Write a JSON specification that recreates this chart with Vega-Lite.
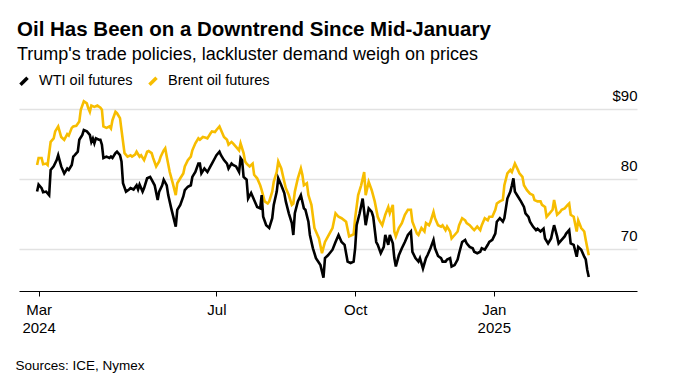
{
  "$schema": "https://vega.github.io/schema/vega-lite/v6.json",
  "autosize": {"type": "none"},
  "padding": {"left": 19, "top": 95, "right": 44, "bottom": 91},
  "width": 618,
  "height": 196,
  "background": "white",
  "title": {
    "text": "Oil Has Been on a Downtrend Since Mid-January",
    "subtitle": "Trump's trade policies, lackluster demand weigh on prices",
    "anchor": "start",
    "frame": "group",
    "font": "Liberation Sans",
    "fontSize": 20.5,
    "fontWeight": "bold",
    "color": "#000000",
    "subtitleFont": "Liberation Sans",
    "subtitleFontSize": 18,
    "subtitleColor": "#000000",
    "subtitlePadding": 6,
    "offset": 8,
    "dx": -2
  },
  "datasets": {
    "brent": [
      {"d": "2024-03-04", "v": 82.0}, {"d": "2024-03-05", "v": 83.0}, {"d": "2024-03-07", "v": 83.0}, {"d": "2024-03-08", "v": 82.1},
      {"d": "2024-03-10", "v": 82.2}, {"d": "2024-03-11", "v": 82.0}, {"d": "2024-03-13", "v": 85.3}, {"d": "2024-03-15", "v": 85.8},
      {"d": "2024-03-16", "v": 86.8}, {"d": "2024-03-18", "v": 87.5}, {"d": "2024-03-20", "v": 86.0}, {"d": "2024-03-22", "v": 85.6},
      {"d": "2024-03-24", "v": 86.4}, {"d": "2024-03-25", "v": 86.2}, {"d": "2024-03-27", "v": 87.3}, {"d": "2024-03-28", "v": 87.5},
      {"d": "2024-03-30", "v": 87.6}, {"d": "2024-04-01", "v": 88.2}, {"d": "2024-04-02", "v": 89.9}, {"d": "2024-04-04", "v": 91.1},
      {"d": "2024-04-06", "v": 90.8}, {"d": "2024-04-07", "v": 90.1}, {"d": "2024-04-08", "v": 89.6}, {"d": "2024-04-09", "v": 90.5},
      {"d": "2024-04-11", "v": 90.3}, {"d": "2024-04-13", "v": 90.5}, {"d": "2024-04-15", "v": 90.2}, {"d": "2024-04-16", "v": 89.9},
      {"d": "2024-04-17", "v": 87.5}, {"d": "2024-04-19", "v": 87.3}, {"d": "2024-04-21", "v": 87.5}, {"d": "2024-04-22", "v": 87.2},
      {"d": "2024-04-23", "v": 88.4}, {"d": "2024-04-25", "v": 89.6}, {"d": "2024-04-26", "v": 89.4}, {"d": "2024-04-28", "v": 88.7},
      {"d": "2024-04-29", "v": 87.0}, {"d": "2024-05-01", "v": 83.7}, {"d": "2024-05-03", "v": 83.2}, {"d": "2024-05-05", "v": 83.4},
      {"d": "2024-05-06", "v": 83.2}, {"d": "2024-05-08", "v": 83.5}, {"d": "2024-05-09", "v": 83.9}, {"d": "2024-05-11", "v": 83.2},
      {"d": "2024-05-12", "v": 83.4}, {"d": "2024-05-14", "v": 82.7}, {"d": "2024-05-16", "v": 83.9}, {"d": "2024-05-17", "v": 84.0},
      {"d": "2024-05-19", "v": 83.7}, {"d": "2024-05-20", "v": 83.0}, {"d": "2024-05-22", "v": 81.8}, {"d": "2024-05-24", "v": 82.5},
      {"d": "2024-05-25", "v": 83.2}, {"d": "2024-05-27", "v": 84.1}, {"d": "2024-05-28", "v": 84.4}, {"d": "2024-05-29", "v": 83.2},
      {"d": "2024-05-31", "v": 81.0}, {"d": "2024-06-02", "v": 79.4}, {"d": "2024-06-04", "v": 77.7}, {"d": "2024-06-05", "v": 79.4},
      {"d": "2024-06-07", "v": 80.1}, {"d": "2024-06-09", "v": 80.8}, {"d": "2024-06-10", "v": 81.8}, {"d": "2024-06-12", "v": 82.7},
      {"d": "2024-06-14", "v": 83.2}, {"d": "2024-06-15", "v": 84.1}, {"d": "2024-06-17", "v": 85.1}, {"d": "2024-06-19", "v": 85.8},
      {"d": "2024-06-20", "v": 85.6}, {"d": "2024-06-22", "v": 86.0}, {"d": "2024-06-24", "v": 85.9}, {"d": "2024-06-25", "v": 85.8},
      {"d": "2024-06-27", "v": 86.5}, {"d": "2024-06-28", "v": 86.8}, {"d": "2024-06-30", "v": 86.7}, {"d": "2024-07-01", "v": 87.0},
      {"d": "2024-07-03", "v": 87.5}, {"d": "2024-07-05", "v": 86.5}, {"d": "2024-07-06", "v": 86.0}, {"d": "2024-07-08", "v": 85.6},
      {"d": "2024-07-09", "v": 84.9}, {"d": "2024-07-11", "v": 85.3}, {"d": "2024-07-12", "v": 85.1}, {"d": "2024-07-14", "v": 84.6},
      {"d": "2024-07-16", "v": 84.1}, {"d": "2024-07-17", "v": 85.1}, {"d": "2024-07-19", "v": 83.7}, {"d": "2024-07-20", "v": 82.5},
      {"d": "2024-07-21", "v": 82.2}, {"d": "2024-07-23", "v": 81.8}, {"d": "2024-07-25", "v": 82.2}, {"d": "2024-07-26", "v": 80.6},
      {"d": "2024-07-28", "v": 80.1}, {"d": "2024-07-30", "v": 79.1}, {"d": "2024-07-31", "v": 78.4}, {"d": "2024-08-02", "v": 76.8},
      {"d": "2024-08-04", "v": 76.5}, {"d": "2024-08-05", "v": 76.8}, {"d": "2024-08-07", "v": 78.2}, {"d": "2024-08-08", "v": 79.6},
      {"d": "2024-08-10", "v": 81.0}, {"d": "2024-08-11", "v": 82.5}, {"d": "2024-08-13", "v": 81.5}, {"d": "2024-08-15", "v": 79.6},
      {"d": "2024-08-16", "v": 78.7}, {"d": "2024-08-18", "v": 77.7}, {"d": "2024-08-20", "v": 76.3}, {"d": "2024-08-21", "v": 76.5},
      {"d": "2024-08-22", "v": 78.2}, {"d": "2024-08-24", "v": 80.1}, {"d": "2024-08-26", "v": 81.5}, {"d": "2024-08-27", "v": 80.6},
      {"d": "2024-08-28", "v": 79.1}, {"d": "2024-08-30", "v": 79.4}, {"d": "2024-08-31", "v": 77.7}, {"d": "2024-09-02", "v": 76.3},
      {"d": "2024-09-04", "v": 73.0}, {"d": "2024-09-05", "v": 72.5}, {"d": "2024-09-07", "v": 71.5}, {"d": "2024-09-09", "v": 69.4},
      {"d": "2024-09-11", "v": 71.0}, {"d": "2024-09-13", "v": 71.8}, {"d": "2024-09-16", "v": 73.0}, {"d": "2024-09-18", "v": 75.1},
      {"d": "2024-09-20", "v": 74.6}, {"d": "2024-09-22", "v": 74.4}, {"d": "2024-09-25", "v": 73.9}, {"d": "2024-09-27", "v": 71.8},
      {"d": "2024-09-30", "v": 72.1}, {"d": "2024-10-01", "v": 74.4}, {"d": "2024-10-03", "v": 77.7}, {"d": "2024-10-05", "v": 79.1},
      {"d": "2024-10-07", "v": 81.0}, {"d": "2024-10-08", "v": 77.7}, {"d": "2024-10-10", "v": 79.6}, {"d": "2024-10-12", "v": 78.4},
      {"d": "2024-10-14", "v": 76.8}, {"d": "2024-10-16", "v": 74.6}, {"d": "2024-10-17", "v": 74.1}, {"d": "2024-10-19", "v": 73.4},
      {"d": "2024-10-21", "v": 74.9}, {"d": "2024-10-23", "v": 76.0}, {"d": "2024-10-24", "v": 75.1}, {"d": "2024-10-26", "v": 76.3},
      {"d": "2024-10-27", "v": 72.5}, {"d": "2024-10-28", "v": 71.8}, {"d": "2024-10-30", "v": 73.0}, {"d": "2024-11-01", "v": 73.7},
      {"d": "2024-11-03", "v": 74.9}, {"d": "2024-11-05", "v": 75.6}, {"d": "2024-11-07", "v": 75.6}, {"d": "2024-11-08", "v": 73.9},
      {"d": "2024-11-11", "v": 72.2}, {"d": "2024-11-12", "v": 72.0}, {"d": "2024-11-14", "v": 73.0}, {"d": "2024-11-16", "v": 72.5},
      {"d": "2024-11-17", "v": 73.7}, {"d": "2024-11-19", "v": 73.4}, {"d": "2024-11-20", "v": 73.9}, {"d": "2024-11-22", "v": 75.3},
      {"d": "2024-11-23", "v": 74.4}, {"d": "2024-11-25", "v": 73.4}, {"d": "2024-11-27", "v": 73.2}, {"d": "2024-11-28", "v": 73.4},
      {"d": "2024-11-30", "v": 72.7}, {"d": "2024-12-01", "v": 73.2}, {"d": "2024-12-03", "v": 72.5}, {"d": "2024-12-04", "v": 71.5},
      {"d": "2024-12-06", "v": 72.0}, {"d": "2024-12-08", "v": 72.5}, {"d": "2024-12-09", "v": 73.4}, {"d": "2024-12-11", "v": 74.4},
      {"d": "2024-12-13", "v": 74.1}, {"d": "2024-12-14", "v": 73.7}, {"d": "2024-12-16", "v": 73.4}, {"d": "2024-12-18", "v": 72.9},
      {"d": "2024-12-19", "v": 72.7}, {"d": "2024-12-21", "v": 73.2}, {"d": "2024-12-23", "v": 72.7}, {"d": "2024-12-24", "v": 73.4},
      {"d": "2024-12-26", "v": 74.4}, {"d": "2024-12-28", "v": 74.1}, {"d": "2024-12-29", "v": 74.6}, {"d": "2024-12-31", "v": 74.6},
      {"d": "2025-01-02", "v": 75.6}, {"d": "2025-01-03", "v": 76.5}, {"d": "2025-01-05", "v": 76.8}, {"d": "2025-01-07", "v": 77.0},
      {"d": "2025-01-08", "v": 79.1}, {"d": "2025-01-10", "v": 80.8}, {"d": "2025-01-12", "v": 81.3}, {"d": "2025-01-13", "v": 81.0},
      {"d": "2025-01-15", "v": 82.2}, {"d": "2025-01-17", "v": 81.3}, {"d": "2025-01-18", "v": 80.8}, {"d": "2025-01-20", "v": 80.3},
      {"d": "2025-01-21", "v": 79.1}, {"d": "2025-01-23", "v": 78.4}, {"d": "2025-01-25", "v": 77.9}, {"d": "2025-01-27", "v": 77.7},
      {"d": "2025-01-28", "v": 77.0}, {"d": "2025-01-30", "v": 76.8}, {"d": "2025-02-01", "v": 76.8}, {"d": "2025-02-02", "v": 76.3},
      {"d": "2025-02-04", "v": 76.0}, {"d": "2025-02-05", "v": 74.6}, {"d": "2025-02-07", "v": 75.1}, {"d": "2025-02-09", "v": 75.6},
      {"d": "2025-02-10", "v": 77.0}, {"d": "2025-02-12", "v": 74.9}, {"d": "2025-02-14", "v": 75.3}, {"d": "2025-02-15", "v": 75.6},
      {"d": "2025-02-17", "v": 75.8}, {"d": "2025-02-19", "v": 76.3}, {"d": "2025-02-20", "v": 76.5}, {"d": "2025-02-21", "v": 74.9},
      {"d": "2025-02-23", "v": 74.6}, {"d": "2025-02-25", "v": 72.5}, {"d": "2025-02-26", "v": 74.1}, {"d": "2025-02-28", "v": 73.0},
      {"d": "2025-03-02", "v": 72.5}, {"d": "2025-03-03", "v": 71.3}, {"d": "2025-03-05", "v": 69.1}
    ],
    "wti": [
      {"d": "2024-03-04", "v": 78.2}, {"d": "2024-03-05", "v": 79.2}, {"d": "2024-03-07", "v": 78.7}, {"d": "2024-03-08", "v": 78.1},
      {"d": "2024-03-10", "v": 78.2}, {"d": "2024-03-12", "v": 77.7}, {"d": "2024-03-13", "v": 81.3}, {"d": "2024-03-15", "v": 81.8},
      {"d": "2024-03-17", "v": 82.7}, {"d": "2024-03-18", "v": 83.4}, {"d": "2024-03-20", "v": 81.8}, {"d": "2024-03-22", "v": 80.8},
      {"d": "2024-03-24", "v": 81.5}, {"d": "2024-03-25", "v": 81.3}, {"d": "2024-03-27", "v": 82.0}, {"d": "2024-03-28", "v": 83.2},
      {"d": "2024-03-29", "v": 83.4}, {"d": "2024-03-31", "v": 83.9}, {"d": "2024-04-01", "v": 85.6}, {"d": "2024-04-03", "v": 86.3},
      {"d": "2024-04-04", "v": 87.0}, {"d": "2024-04-06", "v": 86.8}, {"d": "2024-04-08", "v": 86.3}, {"d": "2024-04-09", "v": 85.3},
      {"d": "2024-04-10", "v": 85.8}, {"d": "2024-04-11", "v": 85.1}, {"d": "2024-04-12", "v": 85.8}, {"d": "2024-04-14", "v": 85.6},
      {"d": "2024-04-15", "v": 85.6}, {"d": "2024-04-16", "v": 84.9}, {"d": "2024-04-17", "v": 83.0}, {"d": "2024-04-19", "v": 83.2},
      {"d": "2024-04-21", "v": 83.0}, {"d": "2024-04-22", "v": 83.2}, {"d": "2024-04-23", "v": 83.0}, {"d": "2024-04-25", "v": 83.7},
      {"d": "2024-04-26", "v": 83.9}, {"d": "2024-04-28", "v": 83.4}, {"d": "2024-04-29", "v": 82.5}, {"d": "2024-04-30", "v": 79.4},
      {"d": "2024-05-02", "v": 78.2}, {"d": "2024-05-04", "v": 78.5}, {"d": "2024-05-05", "v": 78.7}, {"d": "2024-05-07", "v": 78.5},
      {"d": "2024-05-09", "v": 79.1}, {"d": "2024-05-10", "v": 78.5}, {"d": "2024-05-11", "v": 79.2}, {"d": "2024-05-13", "v": 78.2},
      {"d": "2024-05-14", "v": 78.7}, {"d": "2024-05-16", "v": 80.1}, {"d": "2024-05-18", "v": 80.3}, {"d": "2024-05-19", "v": 79.9},
      {"d": "2024-05-21", "v": 79.1}, {"d": "2024-05-23", "v": 77.0}, {"d": "2024-05-24", "v": 78.2}, {"d": "2024-05-26", "v": 79.1},
      {"d": "2024-05-27", "v": 79.9}, {"d": "2024-05-29", "v": 79.1}, {"d": "2024-05-30", "v": 77.7}, {"d": "2024-06-01", "v": 75.8},
      {"d": "2024-06-04", "v": 73.2}, {"d": "2024-06-05", "v": 75.6}, {"d": "2024-06-07", "v": 76.3}, {"d": "2024-06-09", "v": 77.5},
      {"d": "2024-06-10", "v": 78.4}, {"d": "2024-06-12", "v": 78.9}, {"d": "2024-06-14", "v": 79.1}, {"d": "2024-06-15", "v": 80.3},
      {"d": "2024-06-17", "v": 81.0}, {"d": "2024-06-19", "v": 82.2}, {"d": "2024-06-20", "v": 82.2}, {"d": "2024-06-21", "v": 80.8},
      {"d": "2024-06-23", "v": 81.5}, {"d": "2024-06-25", "v": 81.0}, {"d": "2024-06-27", "v": 81.8}, {"d": "2024-06-28", "v": 82.2},
      {"d": "2024-06-30", "v": 83.0}, {"d": "2024-07-01", "v": 83.4}, {"d": "2024-07-03", "v": 83.9}, {"d": "2024-07-04", "v": 83.4},
      {"d": "2024-07-06", "v": 82.7}, {"d": "2024-07-08", "v": 82.2}, {"d": "2024-07-09", "v": 81.5}, {"d": "2024-07-11", "v": 82.2},
      {"d": "2024-07-12", "v": 82.0}, {"d": "2024-07-14", "v": 81.8}, {"d": "2024-07-16", "v": 81.0}, {"d": "2024-07-17", "v": 83.0},
      {"d": "2024-07-18", "v": 82.7}, {"d": "2024-07-19", "v": 80.3}, {"d": "2024-07-21", "v": 79.9}, {"d": "2024-07-22", "v": 77.2},
      {"d": "2024-07-24", "v": 78.0}, {"d": "2024-07-25", "v": 77.5}, {"d": "2024-07-27", "v": 76.5}, {"d": "2024-07-28", "v": 76.0},
      {"d": "2024-07-30", "v": 75.8}, {"d": "2024-07-31", "v": 77.7}, {"d": "2024-08-01", "v": 74.6}, {"d": "2024-08-03", "v": 73.4},
      {"d": "2024-08-04", "v": 73.2}, {"d": "2024-08-05", "v": 73.0}, {"d": "2024-08-07", "v": 74.4}, {"d": "2024-08-08", "v": 76.3},
      {"d": "2024-08-10", "v": 78.2}, {"d": "2024-08-11", "v": 80.1}, {"d": "2024-08-13", "v": 79.1}, {"d": "2024-08-15", "v": 78.0},
      {"d": "2024-08-16", "v": 76.8}, {"d": "2024-08-18", "v": 75.1}, {"d": "2024-08-20", "v": 73.7}, {"d": "2024-08-21", "v": 72.0},
      {"d": "2024-08-22", "v": 75.1}, {"d": "2024-08-24", "v": 76.8}, {"d": "2024-08-26", "v": 77.7}, {"d": "2024-08-28", "v": 75.8},
      {"d": "2024-08-29", "v": 75.6}, {"d": "2024-08-31", "v": 73.9}, {"d": "2024-09-01", "v": 72.0}, {"d": "2024-09-03", "v": 70.1},
      {"d": "2024-09-05", "v": 68.7}, {"d": "2024-09-08", "v": 67.7}, {"d": "2024-09-10", "v": 65.9}, {"d": "2024-09-11", "v": 68.7},
      {"d": "2024-09-13", "v": 69.1}, {"d": "2024-09-16", "v": 69.9}, {"d": "2024-09-18", "v": 71.0}, {"d": "2024-09-20", "v": 72.0},
      {"d": "2024-09-22", "v": 71.0}, {"d": "2024-09-24", "v": 70.6}, {"d": "2024-09-26", "v": 68.2}, {"d": "2024-09-28", "v": 68.0},
      {"d": "2024-09-30", "v": 68.2}, {"d": "2024-10-01", "v": 70.1}, {"d": "2024-10-02", "v": 73.4}, {"d": "2024-10-04", "v": 75.1},
      {"d": "2024-10-06", "v": 77.2}, {"d": "2024-10-08", "v": 73.4}, {"d": "2024-10-09", "v": 74.6}, {"d": "2024-10-10", "v": 75.8},
      {"d": "2024-10-12", "v": 75.3}, {"d": "2024-10-13", "v": 74.6}, {"d": "2024-10-15", "v": 71.0}, {"d": "2024-10-16", "v": 70.6},
      {"d": "2024-10-18", "v": 69.4}, {"d": "2024-10-20", "v": 70.3}, {"d": "2024-10-21", "v": 72.0}, {"d": "2024-10-23", "v": 70.6},
      {"d": "2024-10-24", "v": 72.0}, {"d": "2024-10-26", "v": 70.8}, {"d": "2024-10-27", "v": 68.7}, {"d": "2024-10-28", "v": 67.5},
      {"d": "2024-10-30", "v": 69.1}, {"d": "2024-11-01", "v": 70.1}, {"d": "2024-11-03", "v": 71.0}, {"d": "2024-11-05", "v": 72.0},
      {"d": "2024-11-07", "v": 72.5}, {"d": "2024-11-08", "v": 69.6}, {"d": "2024-11-10", "v": 68.7}, {"d": "2024-11-12", "v": 68.2},
      {"d": "2024-11-13", "v": 68.7}, {"d": "2024-11-15", "v": 67.2}, {"d": "2024-11-17", "v": 68.7}, {"d": "2024-11-18", "v": 69.1},
      {"d": "2024-11-20", "v": 70.1}, {"d": "2024-11-22", "v": 71.3}, {"d": "2024-11-23", "v": 70.1}, {"d": "2024-11-25", "v": 69.0},
      {"d": "2024-11-27", "v": 68.7}, {"d": "2024-11-28", "v": 68.2}, {"d": "2024-11-30", "v": 68.2}, {"d": "2024-12-01", "v": 68.5},
      {"d": "2024-12-03", "v": 68.7}, {"d": "2024-12-04", "v": 67.5}, {"d": "2024-12-06", "v": 67.7}, {"d": "2024-12-08", "v": 68.5},
      {"d": "2024-12-09", "v": 69.4}, {"d": "2024-12-11", "v": 71.0}, {"d": "2024-12-13", "v": 71.3}, {"d": "2024-12-14", "v": 70.8},
      {"d": "2024-12-16", "v": 70.3}, {"d": "2024-12-18", "v": 70.1}, {"d": "2024-12-19", "v": 69.6}, {"d": "2024-12-21", "v": 69.4},
      {"d": "2024-12-23", "v": 69.6}, {"d": "2024-12-24", "v": 70.1}, {"d": "2024-12-26", "v": 69.9}, {"d": "2024-12-28", "v": 70.6},
      {"d": "2024-12-29", "v": 71.0}, {"d": "2024-12-31", "v": 71.3}, {"d": "2025-01-02", "v": 72.2}, {"d": "2025-01-03", "v": 73.9},
      {"d": "2025-01-05", "v": 74.4}, {"d": "2025-01-07", "v": 73.9}, {"d": "2025-01-08", "v": 74.4}, {"d": "2025-01-10", "v": 77.2},
      {"d": "2025-01-12", "v": 78.2}, {"d": "2025-01-13", "v": 79.1}, {"d": "2025-01-14", "v": 80.1}, {"d": "2025-01-15", "v": 78.2},
      {"d": "2025-01-17", "v": 77.5}, {"d": "2025-01-19", "v": 76.8}, {"d": "2025-01-21", "v": 76.0}, {"d": "2025-01-22", "v": 75.1},
      {"d": "2025-01-24", "v": 74.6}, {"d": "2025-01-25", "v": 73.9}, {"d": "2025-01-27", "v": 73.2}, {"d": "2025-01-29", "v": 72.7},
      {"d": "2025-01-30", "v": 72.9}, {"d": "2025-02-01", "v": 72.5}, {"d": "2025-02-03", "v": 72.9}, {"d": "2025-02-04", "v": 71.5},
      {"d": "2025-02-06", "v": 70.8}, {"d": "2025-02-08", "v": 71.5}, {"d": "2025-02-09", "v": 72.5}, {"d": "2025-02-10", "v": 73.4},
      {"d": "2025-02-12", "v": 71.8}, {"d": "2025-02-13", "v": 70.8}, {"d": "2025-02-15", "v": 71.3}, {"d": "2025-02-17", "v": 71.8},
      {"d": "2025-02-18", "v": 72.2}, {"d": "2025-02-20", "v": 72.7}, {"d": "2025-02-21", "v": 70.8}, {"d": "2025-02-23", "v": 70.6},
      {"d": "2025-02-25", "v": 68.9}, {"d": "2025-02-26", "v": 70.3}, {"d": "2025-02-28", "v": 69.9}, {"d": "2025-03-02", "v": 68.9},
      {"d": "2025-03-03", "v": 68.5}, {"d": "2025-03-04", "v": 67.0}, {"d": "2025-03-05", "v": 66.0}
    ]
  },
  "encoding": {
    "x": {
      "field": "d",
      "type": "temporal",
      "scale": {
        "type": "utc",
        "domain": [
          {"year": 2024, "month": 2, "date": 21, "utc": true},
          {"year": 2025, "month": 4, "date": 6, "utc": true}
        ]
      },
      "axis": {
        "values": [
          {"year": 2024, "month": 3, "date": 5, "utc": true},
          {"year": 2024, "month": 7, "date": 1, "utc": true},
          {"year": 2024, "month": 10, "date": 1, "utc": true},
          {"year": 2025, "month": 1, "date": 1, "utc": true}
        ],
        "labelExpr": "utcmonth(datum.value) == 2 ? ['Mar', '2024'] : utcmonth(datum.value) == 0 ? ['Jan', '2025'] : utcFormat(datum.value, '%b')",
        "grid": false,
        "domainColor": "#000000",
        "domainWidth": 1,
        "tickColor": "#000000",
        "tickSize": 5,
        "tickWidth": 1,
        "labelFont": "Liberation Sans",
        "labelFontSize": 15,
        "labelColor": "#000000",
        "labelBaseline": "top",
        "labelPadding": 6,
        "labelLineHeight": 18,
        "labelFlush": false,
        "labelOverlap": false,
        "labelBound": false,
        "title": "Sources: ICE, Nymex",
        "titleFont": "Liberation Sans",
        "titleFontSize": 13.5,
        "titleFontWeight": "normal",
        "titleColor": "#000000",
        "titleAnchor": "start",
        "titleAlign": "left",
        "titleBaseline": "alphabetic",
        "titleX": -4,
        "titleY": 78
      }
    },
    "y": {
      "field": "v",
      "type": "quantitative",
      "scale": {"domain": [64, 92], "nice": false, "zero": false},
      "axis": {
        "orient": "right",
        "values": [70, 80, 90],
        "grid": true,
        "gridColor": "#e2e2e2",
        "gridWidth": 1.5,
        "domain": false,
        "ticks": false,
        "tickSize": 0,
        "labelAlign": "right",
        "labelPadding": 0,
        "labelBaseline": "alphabetic",
        "labelOffset": -9,
        "labelFont": "Liberation Sans",
        "labelFontSize": 15,
        "labelColor": "#000000",
        "labelExpr": "datum.value == 90 ? '$90' : datum.label",
        "title": null
      }
    },
    "color": {
      "scale": {
        "domain": ["WTI oil futures", "Brent oil futures"],
        "range": ["#000000", "#f7bd00"]
      },
      "legend": {
        "orient": "none",
        "legendX": -4,
        "legendY": -23,
        "direction": "horizontal",
        "title": null,
        "symbolType": "M-0.5,0.5L0.5,-0.5",
        "symbolSize": 200,
        "symbolStrokeWidth": 3.5,
        "labelFont": "Liberation Sans",
        "labelFontSize": 14.5,
        "labelColor": "#000000",
        "labelOffset": 6,
        "columnPadding": 9
      }
    }
  },
  "layer": [
    {
      "data": {"name": "brent"},
      "mark": {"type": "line", "strokeWidth": 2.6, "interpolate": "linear"},
      "encoding": {"color": {"datum": "Brent oil futures"}}
    },
    {
      "data": {"name": "wti"},
      "mark": {"type": "line", "strokeWidth": 2.6, "interpolate": "linear"},
      "encoding": {"color": {"datum": "WTI oil futures"}}
    }
  ],
  "config": {
    "view": {"stroke": null}
  }
}
